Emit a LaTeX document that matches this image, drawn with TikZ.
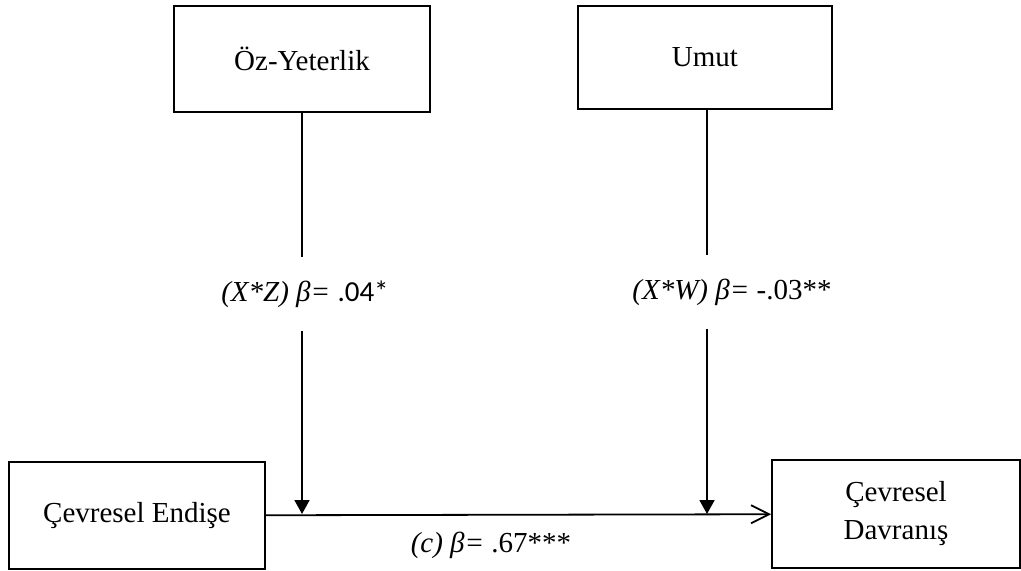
\documentclass[tikz,border=0pt]{standalone}
\usepackage{fontspec}
\setmainfont{Liberation Serif}
\newfontfamily\calibri{Carlito}
\usetikzlibrary{arrows.meta}

\begin{document}
\begin{tikzpicture}[x=0.5pt, y=-0.5pt, line width=0.9pt,
    box/.style={draw, rectangle, inner sep=0pt, align=center,
        font=\fontsize{14.5}{19}\selectfont},
    lbl/.style={inner sep=0pt, minimum height=36pt,
        font=\fontsize{14.5}{19}\selectfont}]
    \useasboundingbox (0,0) rectangle (1021,571);

    % Moderators on top
    \node[box, minimum width=128pt, minimum height=53pt] (oz) at (302,59) {Öz-Yeterlik};
    \node[box, minimum width=127pt, minimum height=51.5pt] (umut) at (705,57.5) {Umut};

    % Predictor and outcome
    \node[box, minimum width=128pt, minimum height=53.5pt] (endise) at (137,515.5) {Çevresel Endişe};
    \node[box, minimum width=124pt, minimum height=54pt] (davranis) at (896,514) {Çevresel\\Davranış};

    % Points where the moderators hit the main path
    \coordinate (m1) at (302,514);
    \coordinate (m2) at (707,514);

    % Interaction labels
    \node[lbl] (xz) at (305,294) {\itshape (X*Z) β= \upshape{\calibri .04*}};
    \node[lbl] (xw) at (732,292) {\itshape (X*W) β= \upshape -.03**};

    % Main path
    \draw[-{Straight Barb[length=9pt,width=9pt]}] (endise) -- (davranis);
    \node[lbl, minimum height=0pt] (c) at (491,545) {\itshape (c) β= \upshape .67***};

    % Moderation arrows
    \draw (oz.south -| m1) -- (xz.north -| m1);
    \draw[-{Triangle[length=7pt,width=7.5pt]}] (xz.south -| m1) -- (m1);
    \draw (umut.south -| m2) -- (xw.north -| m2);
    \draw[-{Triangle[length=7pt,width=7.5pt]}] (xw.south -| m2) -- (m2);

\end{tikzpicture}
\end{document}
